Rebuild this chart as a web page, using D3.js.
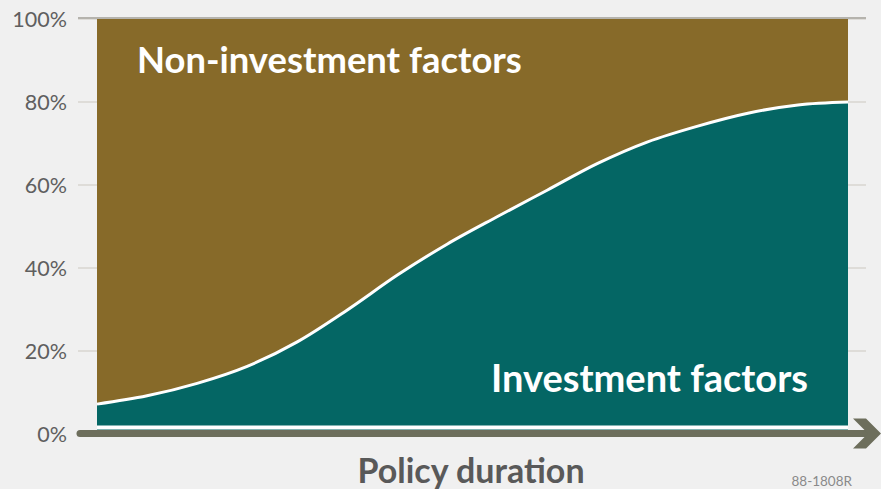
<!DOCTYPE html>
<html lang="en">
  <head>
    <meta charset="utf-8">
    <title>Policy duration</title>
    <script src="https://d3js.org/d3.v7.min.js"></script>
    <style>
      body { margin: 0; background: #f0f0f0; }
      text { font-family: "Source Sans Pro", Lato, "Noto Sans", sans-serif; }
    </style>
  </head>
  <body>
    <div id="my_dataviz"></div>
    <script>

    // policy duration steps (unlabelled on the chart) and share of investment factors, %
    var duration = [0, 1, 2, 3, 4, 5, 6, 7, 8, 9, 10, 11, 12, 13, 14, 15];
    var investment = [7.2, 9.2, 12.2, 16.3, 22.2, 29.9, 38.3, 45.8, 52.4, 58.8, 65.2, 70.4, 74.2, 77.3, 79.3, 80.0];
    var yTicks = [0, 20, 40, 60, 80, 100];
    var seriesNames = ["Investment factors", "Non-investment factors"];

    var W = 881, H = 489;
    var colours = { inv: "#046664", non: "#876a29" };

    var svg = d3.select("#my_dataviz")
      .append("svg")
        .attr("width", W)
        .attr("height", H);

    var x = d3.scaleLinear()
      .domain(d3.extent(duration))
      .range([97, 848]);

    var y = d3.scaleLinear()
      .domain([0, 100])
      .range([434, 19]);

    var data = duration.map(function(d, i) { return { t: d, v: investment[i] }; });

    // grid + tick labels
    var yAxis = svg.append("g")
      .attr("transform", "translate(866,0)")
      .call(d3.axisLeft(y).tickValues(yTicks).tickSize(788).tickPadding(11)
        .tickFormat(function(d) { return d + "%"; }));
    yAxis.select(".domain").remove();
    yAxis.selectAll(".tick line")
      .attr("stroke", "#d8d6d0")
      .attr("stroke-width", 1.5)
      .attr("transform", "translate(0,-0.5)");
    yAxis.selectAll(".tick text")
      .style("font-size", "21.5px")
      .attr("fill", "#5f5f5f")
      .attr("dy", "0.36em");

    // stacked areas
    var areaNon = d3.area()
      .x(function(d) { return x(d.t); })
      .y0(function(d) { return y(d.v); })
      .y1(y(100))
      .curve(d3.curveMonotoneX);
    var areaInv = d3.area()
      .x(function(d) { return x(d.t); })
      .y0(y(0))
      .y1(function(d) { return y(d.v); })
      .curve(d3.curveMonotoneX);
    var line = d3.line()
      .x(function(d) { return x(d.t); })
      .y(function(d) { return y(d.v); })
      .curve(d3.curveMonotoneX);

    svg.append("path").datum(data).attr("d", areaNon).attr("fill", colours.non);
    svg.append("path").datum(data).attr("d", areaInv).attr("fill", colours.inv);
    svg.append("path").datum(data).attr("d", line)
      .attr("fill", "none").attr("stroke", "#fff").attr("stroke-width", 3);

    // top 100% line
    svg.append("line")
      .attr("x1", 78).attr("x2", 866)
      .attr("y1", y(100) - 1).attr("y2", y(100) - 1)
      .attr("stroke", "#b5b3ad").attr("stroke-width", 2);

    // white strip above the axis
    svg.append("line")
      .attr("x1", x(0)).attr("x2", x(15))
      .attr("y1", 427.5).attr("y2", 427.5)
      .attr("stroke", "#fff").attr("stroke-width", 4);

    // x axis arrow
    svg.append("line")
      .attr("x1", 80).attr("x2", 870)
      .attr("y1", y(0) - 0.5).attr("y2", y(0) - 0.5)
      .attr("stroke", "#6d6e5c").attr("stroke-width", 7)
      .attr("stroke-linecap", "round");
    var ay = y(0) - 0.5;
    svg.append("polygon")
      .attr("points", [[853, ay - 15], [866, ay - 15], [881, ay], [866, ay + 15], [853, ay + 15], [868, ay]].join(" "))
      .attr("fill", "#6d6e5c");

    // series labels
    svg.append("text")
      .attr("x", 137).attr("y", 73)
      .text(seriesNames[1])
      .attr("fill", "#fff")
      .style("font-size", "36.4px").style("font-weight", 700);
    svg.append("text")
      .attr("x", 808).attr("y", 392)
      .attr("text-anchor", "end")
      .text(seriesNames[0])
      .attr("fill", "#fff")
      .style("font-size", "38px").style("font-weight", 700);

    // axis title and code
    svg.append("text")
      .attr("x", 471).attr("y", 483)
      .attr("text-anchor", "middle")
      .text("Policy duration")
      .attr("fill", "#595959")
      .style("font-size", "34px").style("font-weight", 700);
    svg.append("text")
      .attr("x", 852).attr("y", 486)
      .attr("text-anchor", "end")
      .text("88-1808R")
      .attr("fill", "#8a8a8a")
      .style("font-size", "13.5px");

    </script>
  </body>
</html>
